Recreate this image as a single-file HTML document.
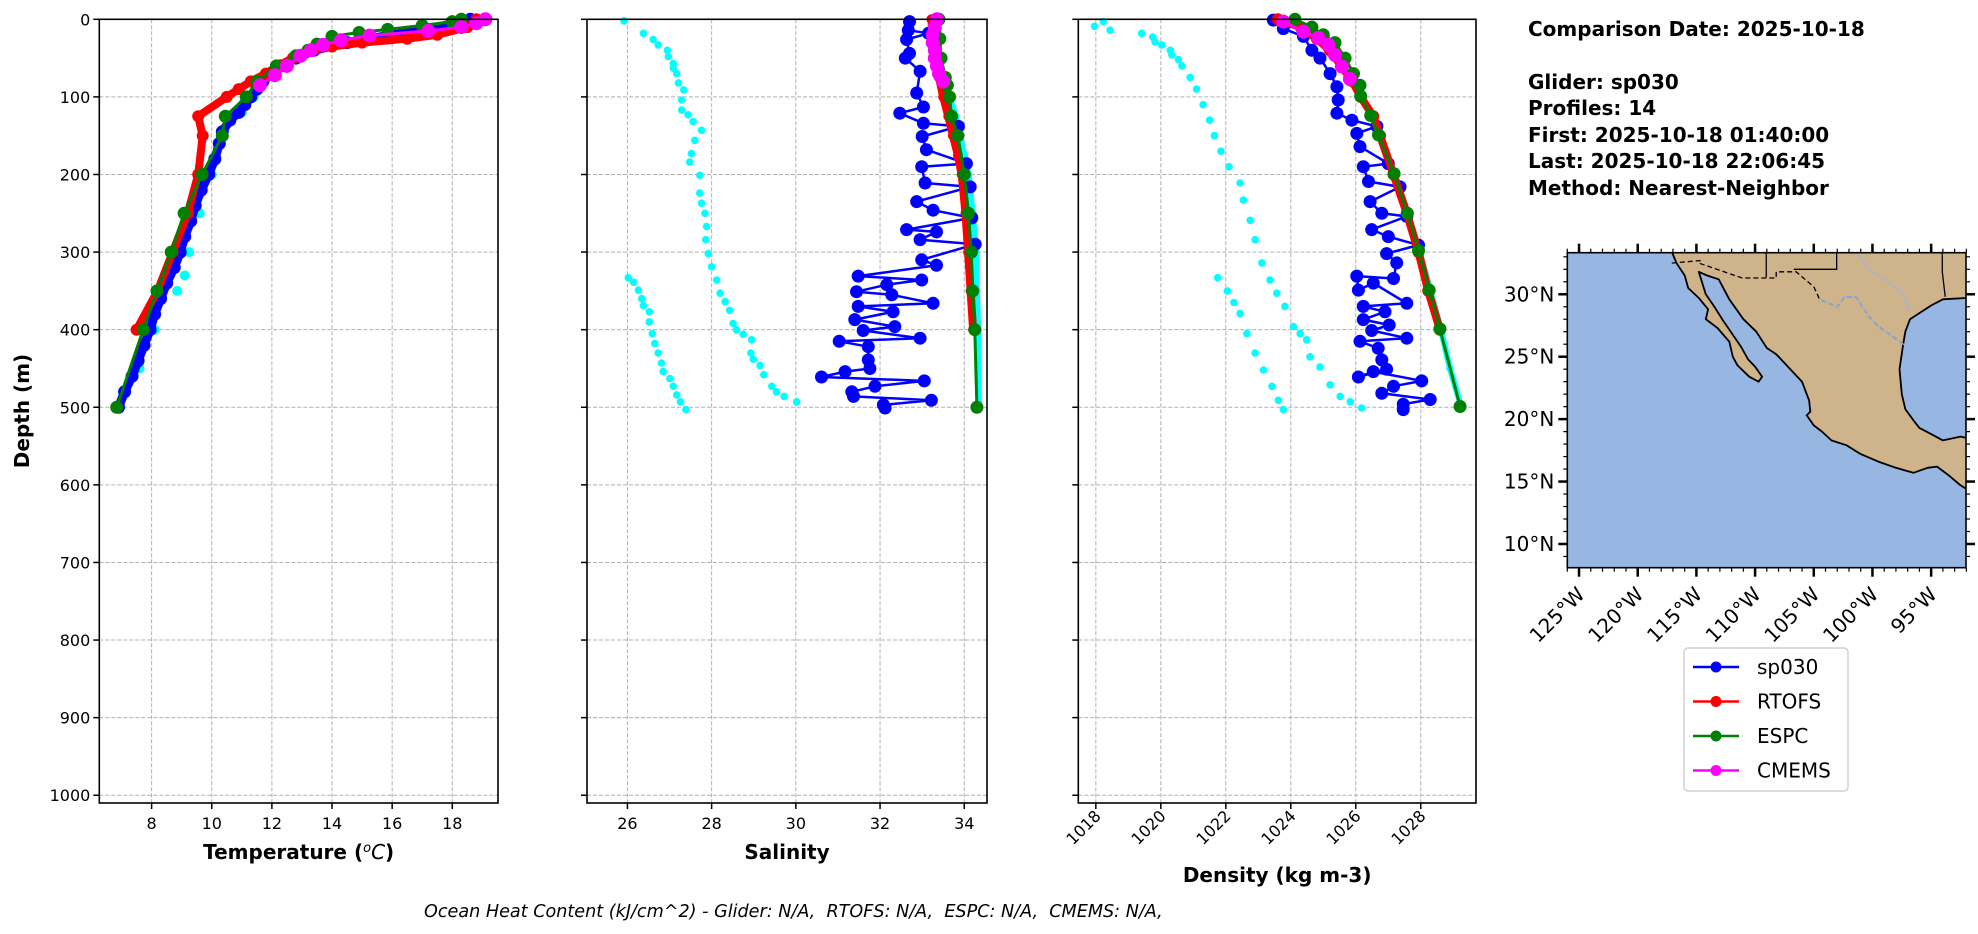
<!DOCTYPE html>
<html><head><meta charset="utf-8">
<style>
html,body{margin:0;padding:0;background:#fff;}
svg{display:block;font-family:"DejaVu Sans","Liberation Sans",sans-serif;}
</style></head>
<body>
<svg id="fig" width="1978" height="934" viewBox="0 0 1978 934" xmlns="http://www.w3.org/2000/svg">
<g id="panels"></g>
<g id="info" font-weight="bold" font-size="20" fill="#000">
<text x="1528" y="36">Comparison Date: 2025-10-18</text>
<text x="1528" y="89">Glider: sp030</text>
<text x="1528" y="115">Profiles: 14</text>
<text x="1528" y="142">First: 2025-10-18 01:40:00</text>
<text x="1528" y="168">Last: 2025-10-18 22:06:45</text>
<text x="1528" y="195">Method: Nearest-Neighbor</text>
</g>
<g id="map"></g>
<g id="legend">
<rect x="1684" y="648" width="164" height="143" rx="4" fill="#fff" stroke="#d0d0d0" stroke-width="1.5"/>
</g>
<text x="424" y="917" font-size="17.6" font-style="italic" style="white-space:pre">Ocean Heat Content (kJ/cm^2) - Glider: N/A,&#160; RTOFS: N/A,&#160; ESPC: N/A,&#160; CMEMS: N/A,</text>
</svg>
<script>
// ---------- data ----------
const depthTicks=[0,100,200,300,400,500,600,700,800,900,1000];
const tempTicks=[8,10,12,14,16,18];
const salTicks=[26,28,30,32,34];
const denTicks=[1018,1020,1022,1024,1026,1028];
const legendNames=["sp030","RTOFS","ESPC","CMEMS"];

// Temperature
const gliderTempDepth=[0,5,10,15,20,30,40,50,60,70,80,90,100,110,120,130,145,160,180,200,220,240,260,280,300,320,340,360,380,400,420,440,460,480,500];
const gliderTemp=[18.6,18.3,17.8,17.0,16.0,14.5,13.4,12.8,12.3,12.0,11.7,11.5,11.3,11.1,10.9,10.6,10.35,10.25,10.1,9.9,9.65,9.45,9.3,9.1,8.95,8.75,8.5,8.3,8.1,7.95,7.75,7.55,7.35,7.1,6.9];
const rawTempDepth=[0,10,30,50,80,100,120,150,200,250,300,330,350,400,450,500];
const rawTemp=[19.0,18.0,14.5,12.8,11.7,11.4,11.0,10.3,10.0,9.6,9.25,9.1,8.85,8.1,7.6,6.95];
const rtofsTempDepth=[0,10,20,25,30,35,40,50,60,70,80,90,100,125,150,200,250,300,350,400];
const rtofsTemp=[18.8,18.5,17.5,16.5,15.0,14.0,13.3,12.7,12.2,11.8,11.3,10.9,10.5,9.55,9.7,9.55,9.2,8.7,8.2,7.5];
const espcTempDepth=[0,3,8,13,17,22,32,40,47,60,80,100,125,150,200,250,300,350,400,500];
const espcTemp=[18.3,18.0,17.0,15.85,14.9,14.0,13.5,13.2,12.8,12.15,11.5,11.15,10.45,10.35,9.68,9.08,8.65,8.18,7.72,6.84];
const cmemsTempDepth=[0,5,10,15,21,27,33,40,47,60,72,85];
const cmemsTemp=[19.1,18.8,18.3,17.2,15.25,14.3,13.7,13.3,12.95,12.5,12.1,11.6];

// Salinity
const gliderSalDepth=[3,14,18,26,44,50,67,95,113,121,134,138,151,168,186,190,211,216,235,246,256,271,274,284,290,310,317,331,336,342,351,355,366,370,377,387,396,401,411,415,422,439,450,454,461,466,473,480,486,491,497,501];
const gliderSal=[32.7,32.67,33.15,32.63,32.7,32.6,32.95,32.87,33.03,32.47,33.03,33.86,33.0,33.1,34.05,32.99,33.07,34.14,32.87,33.26,34.18,32.63,33.34,32.95,34.26,32.99,33.34,31.48,32.99,32.16,31.44,32.28,33.26,31.48,32.31,31.4,32.35,31.6,32.95,31.03,31.72,31.72,31.76,31.17,30.61,33.05,31.88,31.33,31.37,33.22,32.08,32.12];
const rawSalDepthA=[2,18,26,33,40,48,57,63,70,82,91,104,117,123,132,143,156,173,184,201,224,237,250,267,284,302,319,336,353,364,375,392,400,406,413,430,438,446,458,473,480,486,493];
const rawSalA=[25.92,26.38,26.61,26.73,26.95,26.97,27.09,27.09,27.17,27.21,27.34,27.29,27.29,27.44,27.56,27.76,27.6,27.52,27.48,27.72,27.72,27.76,27.84,27.88,27.86,27.92,28.0,28.12,28.2,28.32,28.43,28.51,28.59,28.75,28.95,28.93,28.99,29.15,29.24,29.43,29.54,29.72,30.02];
const rawSalDepthB=[333,339,349,360,369,377,390,405,418,430,443,454,463,473,484,493,503];
const rawSalB=[26.02,26.15,26.26,26.34,26.38,26.52,26.52,26.59,26.65,26.73,26.81,26.85,27.01,27.09,27.17,27.26,27.39];
const rawSalDepthC=[100,125,150,175,200,250,300,350,400,450,500];
const rawSalC=[33.65,33.8,33.9,34.0,34.1,34.2,34.28,34.3,34.33,34.33,34.35];
const rtofsSalDepth=[0,25,50,75,100,125,150,175,200,250,300,350,400];
const rtofsSal=[33.22,33.25,33.3,33.4,33.5,33.62,33.73,33.85,33.94,34.03,34.09,34.15,34.21];
const espcSalDepth=[0,25,50,75,85,100,125,150,200,250,300,350,400,500];
const espcSal=[33.4,33.42,33.45,33.55,33.6,33.65,33.7,33.85,34.0,34.1,34.17,34.2,34.25,34.3];
const cmemsSalDepth=[0,10,20,30,40,50,60,70,80];
const cmemsSal=[33.35,33.3,33.25,33.25,33.3,33.3,33.35,33.4,33.5];

// Density
const gliderDenDepth=[1,12,22,40,50,70,87,104,121,130,138,147,164,186,190,209,216,235,250,254,271,280,291,302,314,334,331,349,340,366,370,377,387,394,401,411,415,424,439,451,461,454,466,473,482,490,496,503];
const gliderDen=[1023.46,1023.77,1024.39,1024.65,1024.9,1025.21,1025.42,1025.46,1025.42,1025.88,1026.65,1026.03,1026.13,1027.0,1026.23,1026.39,1027.36,1026.44,1026.8,1027.57,1026.49,1027.0,1027.93,1026.95,1027.26,1027.16,1026.03,1026.08,1026.54,1027.57,1026.23,1026.9,1026.23,1027.03,1026.49,1027.57,1026.13,1026.69,1026.8,1026.95,1026.08,1026.54,1028.03,1027.16,1026.8,1028.29,1027.46,1027.46];
const rawDenDepthA=[3,9,14,18,23,29,33,40,46,52,60,75,90,110,130,150,170,190,211,233,259,284,314,336,353,370,396,405,413,435,448,471,486,493,501];
const rawDenA=[1018.23,1017.96,1018.44,1019.41,1019.75,1019.82,1020.03,1020.29,1020.34,1020.54,1020.65,1020.9,1021.1,1021.3,1021.5,1021.65,1021.85,1022.1,1022.44,1022.54,1022.75,1022.9,1023.11,1023.36,1023.57,1023.82,1024.08,1024.29,1024.49,1024.59,1024.9,1025.21,1025.52,1025.83,1026.18];
const rawDenDepthB=[333,350,365,379,405,430,452,473,491,503];
const rawDenB=[1021.75,1022.05,1022.25,1022.44,1022.65,1022.9,1023.16,1023.42,1023.62,1023.77];
const rawDenDepthC=[150,200,250,300,350,400,450,500];
const rawDenC=[1026.75,1027.2,1027.6,1027.97,1028.3,1028.62,1028.9,1029.25];
const rtofsDenDepth=[0,10,25,40,60,80,100,125,150,200,250,300,350,400];
const rtofsDen=[1023.6,1024.3,1024.8,1025.2,1025.55,1025.9,1026.15,1026.54,1026.75,1027.16,1027.57,1027.93,1028.23,1028.59];
const espcDenDepth=[0,10,20,30,50,70,85,99,124,149,199,250,298,349,399,499];
const espcDen=[1024.13,1024.65,1025.0,1025.36,1025.67,1025.93,1026.13,1026.15,1026.46,1026.7,1027.18,1027.59,1027.93,1028.26,1028.59,1029.21];
const cmemsDenDepth=[3,16,24,33,46,61,77];
const cmemsDen=[1023.77,1024.39,1024.85,1025.16,1025.36,1025.57,1025.82];

// Map
const latTicks=[10,15,20,25,30];
const lonTicks=[-125,-120,-115,-110,-105,-100,-95];
const landLon=[-117.1,-116.7,-116,-115.7,-114.8,-114,-114.2,-113.2,-112.2,-111.9,-111.5,-110.5,-109.7,-109.4,-110.0,-110.6,-111.2,-112.0,-112.8,-113.4,-114.2,-114.6,-114.8,-114.1,-113.1,-112.2,-111.0,-109.9,-109.0,-108.2,-107.0,-106.0,-105.4,-105.3,-105.6,-105.0,-104.3,-103.5,-102.2,-101.0,-99.5,-98.0,-96.5,-95.3,-94.5,-93.5,-92.5,-92.0,-92.0,-92.5,-94.0,-95.0,-96.0,-96.5,-97.2,-97.5,-97.7,-97.4,-97.2,-96.8,-95.0,-94.0,-92.0,-92.0];
const landLat=[33.4,32.5,31.5,30.5,29.7,28.8,28.0,27.3,26.2,25.0,24.3,23.4,23.0,23.4,24.2,24.8,25.8,26.9,28.0,28.9,30.0,31.2,31.8,31.5,31.2,29.6,28.0,27.0,25.7,25.2,24.0,23.0,21.5,20.6,20.3,19.5,19.0,18.3,17.9,17.2,16.6,16.1,15.7,16.1,16.2,15.5,14.7,14.4,18.5,18.6,18.3,18.8,19.3,19.9,20.8,22.0,24.0,25.9,27.0,28.0,29.1,29.6,29.7,33.4];
const borderLon=[-117.1,-114.7,-114.8,-111.1,-108.2,-108.2,-106.5,-105.0,-104.5,-103.0,-102.4,-101.4,-100.3,-99.5,-97.2];
const borderLat=[32.5,32.7,32.5,31.3,31.3,31.8,31.8,30.6,29.6,29.0,29.8,29.8,28.2,27.4,25.9];

// ---------- drawing ----------
const NS="http://www.w3.org/2000/svg";
function mk(parent,tag,attrs){const e=document.createElementNS(NS,tag);for(const k in attrs)e.setAttribute(k,attrs[k]);parent.appendChild(e);return e;}
const Y0=19.3,Y1=803,DMAX=1010;
function yScale(d){return Y0+(d/DMAX)*(Y1-Y0);}
const panelsG=document.getElementById('panels');

function drawPanel(name,x0,x1,dmin,dmax,ticks,label,rotate,showY,titleY,series){
  const g=mk(panelsG,'g',{});
  
  
  const xs=v=>x0+(v-dmin)/(dmax-dmin)*(x1-x0);
  depthTicks.forEach(d=>{const l=mk(g,'line',{x1:x0,x2:x1,y1:yScale(d),y2:yScale(d),stroke:'#b0b0b0','stroke-width':1,'stroke-dasharray':'4,2'});
    });
  ticks.forEach(t=>{const l=mk(g,'line',{x1:xs(t),x2:xs(t),y1:Y0,y2:Y1,stroke:'#b0b0b0','stroke-width':1,'stroke-dasharray':'4,2'});
    });
  series.forEach(s=>{
    const sg=mk(g,'g',{});
    
    
    const pts=s.d.map((d,i)=>[xs(s.v[i]),yScale(d)]);
    if(s.lw>0){const p=mk(sg,'polyline',{points:pts.map(p=>p[0].toFixed(1)+','+p[1].toFixed(1)).join(' '),fill:'none',stroke:s.c,'stroke-width':s.lw,'stroke-linejoin':'round'});
      }
    pts.forEach(p=>{const c=mk(sg,'circle',{cx:p[0].toFixed(1),cy:p[1].toFixed(1),r:s.r,fill:s.c});
      });
  });
  const fr=mk(g,'rect',{x:x0,y:Y0,width:x1-x0,height:Y1-Y0,fill:'none',stroke:'#000','stroke-width':1.6});
  
  depthTicks.forEach(d=>{mk(g,'line',{x1:x0-6,x2:x0,y1:yScale(d),y2:yScale(d),stroke:'#000','stroke-width':1.5});
    if(showY){const t=mk(g,'text',{x:x0-9,y:yScale(d)+6,'text-anchor':'end','font-size':16});t.textContent=d;
      }});
  ticks.forEach(v=>{const x=xs(v);mk(g,'line',{x1:x,x2:x,y1:Y1,y2:Y1+6,stroke:'#000','stroke-width':1.5});
    let t;
    if(rotate){t=mk(g,'text',{x:x+6,y:Y1+14,'text-anchor':'end','font-size':16,transform:`rotate(-45 ${x+6} ${Y1+14})`});}
    else{t=mk(g,'text',{x:x,y:Y1+26,'text-anchor':'middle','font-size':16});}
    t.textContent=v;});
  const lt=mk(g,'text',{x:(x0+x1)/2,y:titleY,'text-anchor':'middle','font-size':20,'font-weight':'bold'});
  lt.innerHTML=label;
  
}

drawPanel('temperature',99.3,498,6.26,19.52,tempTicks,'Temperature (<tspan font-style="italic" font-weight="normal" baseline-shift="super" font-size="13">o</tspan><tspan font-style="italic" font-weight="normal">C</tspan>)',false,true,859,[
 {id:'glider-raw',d:rawTempDepth,v:rawTemp,c:'#00ffff',lw:0,r:5},
 {id:'sp030',d:gliderTempDepth,v:gliderTemp,c:'#0000ff',lw:9,r:6.5},
 {id:'rtofs',d:rtofsTempDepth,v:rtofsTemp,c:'#ff0000',lw:8,r:6},
 {id:'espc',d:espcTempDepth,v:espcTemp,c:'#008000',lw:3,r:6.5},
 {id:'cmems',d:cmemsTempDepth,v:cmemsTemp,c:'#ff00ff',lw:3,r:7}]);
drawPanel('salinity',587,987,25.04,34.54,salTicks,'Salinity',false,false,859,[
 {id:'glider-raw-a',d:rawSalDepthA,v:rawSalA,c:'#00ffff',lw:0,r:3.8},
 {id:'glider-raw-b',d:rawSalDepthB,v:rawSalB,c:'#00ffff',lw:0,r:3.8},
 {id:'glider-raw-c',d:rawSalDepthC,v:rawSalC,c:'#00ffff',lw:6,r:3.8},
 {id:'sp030',d:gliderSalDepth,v:gliderSal,c:'#0000ff',lw:2.5,r:6.5},
 {id:'rtofs',d:rtofsSalDepth,v:rtofsSal,c:'#ff0000',lw:8,r:5},
 {id:'espc',d:espcSalDepth,v:espcSal,c:'#008000',lw:3,r:6.5},
 {id:'cmems',d:cmemsSalDepth,v:cmemsSal,c:'#ff00ff',lw:8,r:7}]);
drawPanel('density',1078.3,1476,1017.46,1029.7,denTicks,'Density (kg m-3)',true,false,882,[
 {id:'glider-raw-a',d:rawDenDepthA,v:rawDenA,c:'#00ffff',lw:0,r:3.8},
 {id:'glider-raw-b',d:rawDenDepthB,v:rawDenB,c:'#00ffff',lw:0,r:3.8},
 {id:'glider-raw-c',d:rawDenDepthC,v:rawDenC,c:'#00ffff',lw:6,r:3.8},
 {id:'sp030',d:gliderDenDepth,v:gliderDen,c:'#0000ff',lw:2.5,r:6.5},
 {id:'rtofs',d:rtofsDenDepth,v:rtofsDen,c:'#ff0000',lw:8,r:6},
 {id:'espc',d:espcDenDepth,v:espcDen,c:'#008000',lw:3,r:6.5},
 {id:'cmems',d:cmemsDenDepth,v:cmemsDen,c:'#ff00ff',lw:3,r:7}]);

const yt=mk(panelsG,'text',{x:0,y:0,'text-anchor':'middle','font-size':20,'font-weight':'bold',transform:'translate(29,411) rotate(-90)'});
yt.textContent='Depth (m)';



// ---------- map ----------
const mapG=document.getElementById('map');
const MX0=1567.3,MX1=1966,MY0=252.7,MY1=567.7;
const LON0=-126,LON1=-92.03,LAT0=8.1,LAT1=33.33;
const mx=l=>MX0+(l-LON0)/(LON1-LON0)*(MX1-MX0);
const my=l=>MY1-(l-LAT0)/(LAT1-LAT0)*(MY1-MY0);
mk(mapG,'defs',{}).innerHTML='<clipPath id="mclip"><rect x="'+MX0+'" y="'+MY0+'" width="'+(MX1-MX0)+'" height="'+(MY1-MY0)+'"/></clipPath>';
const ocean=mk(mapG,'rect',{x:MX0,y:MY0,width:MX1-MX0,height:MY1-MY0,fill:'#97b6e1'});

const cg=mk(mapG,'g',{'clip-path':'url(#mclip)'});
const land=mk(cg,'polygon',{points:landLon.map((l,i)=>mx(l).toFixed(1)+','+my(landLat[i]).toFixed(1)).join(' '),fill:'#cfb38b',stroke:'#000','stroke-width':1.8,'stroke-linejoin':'round'});

const bd=mk(cg,'polyline',{points:borderLon.map((l,i)=>mx(l).toFixed(1)+','+my(borderLat[i]).toFixed(1)).join(' '),fill:'none',stroke:'#000','stroke-width':1.3,'stroke-dasharray':'5,3'});

mk(cg,'polyline',{points:[[-109.05,33.4],[-109.05,31.35]].map(p=>mx(p[0])+','+my(p[1])).join(' '),fill:'none',stroke:'#000','stroke-width':1.3});
mk(cg,'polyline',{points:[[-106.7,32.0],[-103.05,32.0],[-103.05,33.4]].map(p=>mx(p[0])+','+my(p[1])).join(' '),fill:'none',stroke:'#000','stroke-width':1.3});
mk(cg,'polyline',{points:[[-94.05,33.4],[-94.05,31.8],[-93.8,29.8]].map(p=>mx(p[0])+','+my(p[1])).join(' '),fill:'none',stroke:'#000','stroke-width':1.3});
mk(cg,'polyline',{points:[[-104.5,29.6],[-103,29.0],[-102.4,29.8],[-101.4,29.8],[-100.3,28.2],[-99.5,27.4],[-97.2,25.9]].map(p=>mx(p[0])+','+my(p[1])).join(' '),fill:'none',stroke:'#97b6e1','stroke-width':1.2});
mk(cg,'polyline',{points:[[-101.5,33.4],[-100,31.8],[-97.5,30.2],[-96.8,28.6]].map(p=>mx(p[0])+','+my(p[1])).join(' '),fill:'none',stroke:'#97b6e1','stroke-width':1.2});
mk(mapG,'rect',{x:MX0,y:MY0,width:MX1-MX0,height:MY1-MY0,fill:'none',stroke:'#000','stroke-width':1.6});
for(let l=-126;l<=-92;l++){const x=mx(l);const maj=lonTicks.includes(l);
  mk(mapG,'line',{x1:x,x2:x,y1:MY1,y2:MY1+(maj?9:4),stroke:'#000','stroke-width':maj?2.5:1.2});
  mk(mapG,'line',{x1:x,x2:x,y1:MY0,y2:MY0-(maj?9:4),stroke:'#000','stroke-width':maj?2.5:1.2});}
for(let l=9;l<=33;l++){const y=my(l);const maj=latTicks.includes(l);
  mk(mapG,'line',{x1:MX0-(maj?9:4),x2:MX0,y1:y,y2:y,stroke:'#000','stroke-width':maj?2.5:1.2});
  mk(mapG,'line',{x1:MX1,x2:MX1+(maj?9:4),y1:y,y2:y,stroke:'#000','stroke-width':maj?2.5:1.2});}
latTicks.forEach(l=>{const t=mk(mapG,'text',{x:MX0-13,y:my(l)+7,'text-anchor':'end','font-size':20});t.textContent=l+'°N';
  });
lonTicks.forEach(l=>{const x=mx(l)+7,y=MY1+28;const t=mk(mapG,'text',{x:x,y:y,'text-anchor':'end','font-size':20,transform:`rotate(-45 ${x} ${y})`});t.textContent=(-l)+'°W';
  });

// ---------- legend ----------
const legG=document.getElementById('legend');
const legColors=['#0000ff','#ff0000','#008000','#ff00ff'];
legendNames.forEach((n,i)=>{const y=667+i*34.5;
  const e=mk(legG,'g',{});
  
  
  mk(e,'line',{x1:1693,x2:1739,y1:y,y2:y,stroke:legColors[i],'stroke-width':2.5});
  mk(e,'circle',{cx:1716,cy:y,r:5.5,fill:legColors[i]});
  const t=mk(e,'text',{x:1757,y:y+7,'font-size':20});t.textContent=n;});
</script>
</body></html>
